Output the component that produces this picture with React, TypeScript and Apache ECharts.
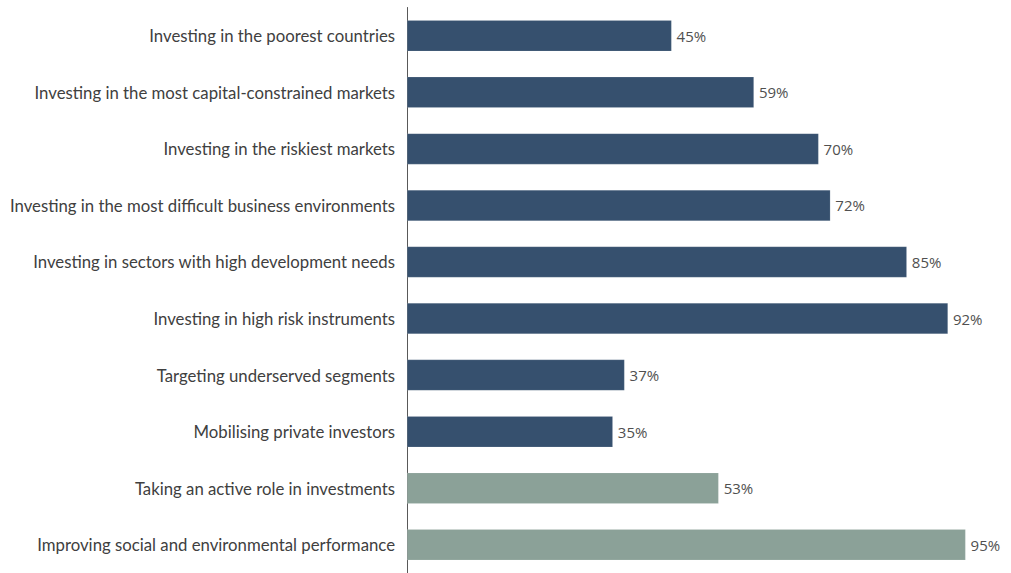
import React, { useEffect, useRef } from "react";
import * as echarts from "echarts";

const categories = [
  "Investing in the poorest countries",
  "Investing in the most capital-constrained markets",
  "Investing in the riskiest markets",
  "Investing in the most difficult business environments",
  "Investing in sectors with high development needs",
  "Investing in high risk instruments",
  "Targeting underserved segments",
  "Mobilising private investors",
  "Taking an active role in investments",
  "Improving social and environmental performance",
];
const values = [45, 59, 70, 72, 85, 92, 37, 35, 53, 95];
const groups = ["a", "a", "a", "a", "a", "a", "a", "a", "b", "b"];
const groupColors: Record<string, string> = { a: "#36506E", b: "#8BA198" };

export default function App() {
  const ref = useRef<HTMLDivElement>(null);
  useEffect(() => {
    document.body.style.margin = "0";
    const chart = echarts.init(ref.current!, undefined, { renderer: "svg" });
    chart.setOption({
      animation: false,
      grid: { left: 407, right: 16, top: 7.5, height: 570 },
      xAxis: {
        type: "value",
        min: 0,
        max: 100,
        show: false,
      },
      yAxis: {
        type: "category",
        inverse: true,
        data: categories,
        axisLine: { show: true, lineStyle: { color: "#595959", width: 1 } },
        axisTick: { show: false },
        axisLabel: {
          margin: 12,
          fontFamily: "Lato",
          fontSize: 16.75,
          color: "#404040",
        },
      },
      series: [
        {
          type: "bar",
          barWidth: 31,
          data: values.map((v, i) => ({
            value: v,
            itemStyle: { color: groupColors[groups[i]], borderColor: "rgba(255,255,255,0.25)", borderWidth: 0.5 },
          })),
          label: {
            show: true,
            position: "right",
            distance: 5,
            formatter: (p: any) => p.value + "%",
            fontFamily: "Open Sans",
            fontSize: 15,
            color: "#505050",
          },
        },
      ],
    });
    return () => chart.dispose();
  }, []);
  return <div ref={ref} style={{ width: 1011, height: 573 }} />;
}
